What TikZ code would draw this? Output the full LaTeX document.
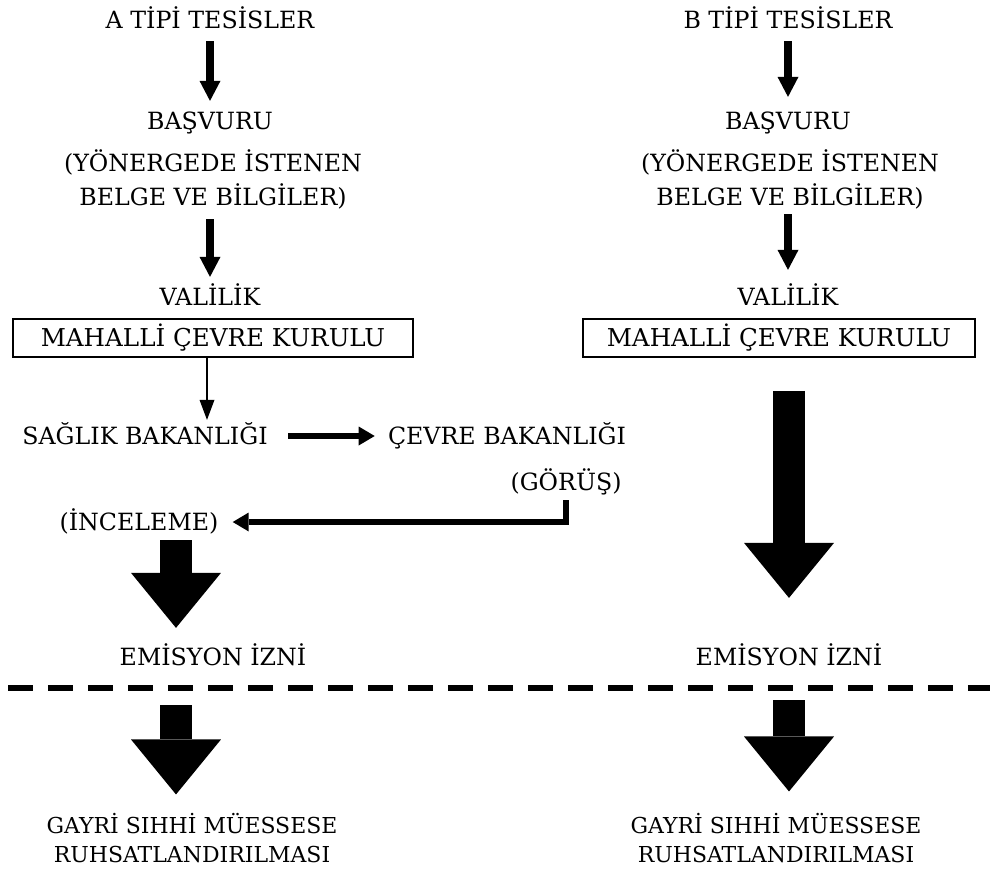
\documentclass[tikz,border=0pt]{standalone}
\usepackage{fontspec}
\setmainfont{DejaVu Serif}
\usetikzlibrary{positioning,calc,arrows.meta}
\tikzset{
  lbl/.style   ={font=\fontsize{13.5}{19.3}\selectfont, align=center, inner sep=0pt,
                 text height=10pt, text depth=0pt},
  lbltwo/.style={font=\fontsize{13.5}{19.3}\selectfont, align=center, inner sep=0pt},
  lblsub/.style={font=\fontsize{12.5}{17}\selectfont, align=center, inner sep=0pt},
  kurul/.style ={draw, line width=1.1pt, font=\fontsize{14}{16}\selectfont,
                 inner sep=0pt, minimum height=0.76cm},
  % plain step arrow
  stepar/.style={line width=4pt, -{Triangle[width=0.42cm,length=0.4cm,line width=0pt]},
                 shorten <=0.24cm, shorten >=0.22cm},
  thinar/.style={line width=1.7pt, -{Triangle[width=0.3cm,length=0.4cm,line width=0pt]}},
  sidear/.style={line width=3.4pt, -{Triangle[width=0.38cm,length=0.32cm,line width=0pt]}},
  % block arrow
  fat/.style   ={line width=0.64cm, -{Triangle[width=1.8cm,length=1.1cm,line width=0pt]}},
  sep/.style   ={line width=3.4pt, dash pattern=on 0.5cm off 0.3cm},
}
\begin{document}
\begin{tikzpicture}[x=0.02cm,y=-0.02cm]
  \useasboundingbox (0,0) rectangle (990,872);
  % A column
  \node[lbl] (tA) at (210,20) {A TİPİ TESİSLER};
  \node[lbl] (bA) at (210,121) {BAŞVURU};
  \node[lbltwo] (dA) at (213,179) {(YÖNERGEDE İSTENEN\\BELGE VE BİLGİLER)};
  \node[lbl] (vA) at (210,297) {VALİLİK};
  \node[kurul, minimum width=8cm] (kA) at (213,338) {MAHALLİ ÇEVRE KURULU};
  \node[lbl] (sag) at (145,436) {SAĞLIK BAKANLIĞI};
  \node[lbl] (cev) at (507,436) {ÇEVRE BAKANLIĞI};
  \node[lbl] (gor) at (566,482) {(GÖRÜŞ)};
  \node[lbl] (inc) at (139,522) {(İNCELEME)};
  \node[lbl] (eA) at (213,657) {EMİSYON İZNİ};
  \node[lblsub] (gA) at (192,838) {GAYRİ SIHHİ MÜESSESE\\RUHSATLANDIRILMASI};
  \draw[stepar] (tA) -- (bA);
  \draw[stepar, shorten <=0.2cm] (dA.south -| vA) -- (vA);
  \draw[thinar, shorten >=0.14cm] ([xshift=-0.12cm]kA.south) -- ([xshift=-0.12cm]kA.south |- sag.north);
  \draw[sidear, shorten <=0.4cm, shorten >=0.26cm] (sag.east) -- (cev.west);
  \draw[sidear, shorten <=0.18cm, shorten >=0.28cm] (gor.south) |- (inc.east);
  \coordinate (midA) at ($(inc.south)!0.5!(eA.north)$);
  \draw[fat, shorten <=0.18cm, shorten >=0.4cm] (midA |- inc.south) -- (midA |- eA.north);
  % B column
  \node[lbl] (tB) at (788,20) {B TİPİ TESİSLER};
  \node[lbl] (bB) at (788,121) {BAŞVURU};
  \node[lbltwo] (dB) at (790,179) {(YÖNERGEDE İSTENEN\\BELGE VE BİLGİLER)};
  \node[lbl] (vB) at (788,297) {VALİLİK};
  \node[kurul, minimum width=7.84cm] (kB) at (779,338) {MAHALLİ ÇEVRE KURULU};
  \node[lbl] (eB) at (789,657) {EMİSYON İZNİ};
  \node[lblsub] (gB) at (776,838) {GAYRİ SIHHİ MÜESSESE\\RUHSATLANDIRILMASI};
  \draw[stepar, shorten >=0.3cm] (tB) -- (bB);
  \draw[stepar, shorten <=0.1cm, shorten >=0.36cm] (dB.south -| vB) -- (vB);
  \draw[fat, shorten <=0.66cm, shorten >=1.0cm] (kB.south -| eB.north) -- (eB.north);
  % dashed separator
  \coordinate (dl) at (8,688);
  \coordinate (dr) at (995,688);
  \draw[sep] (dl) -- (dr);
  \draw[fat, shorten <=0.34cm, shorten >=0.36cm] (midA |- dl) -- (midA |- gA.north);
  \draw[fat, shorten <=0.24cm, shorten >=0.42cm] (eB |- dl) -- (eB |- gB.north);
\end{tikzpicture}
\end{document}
